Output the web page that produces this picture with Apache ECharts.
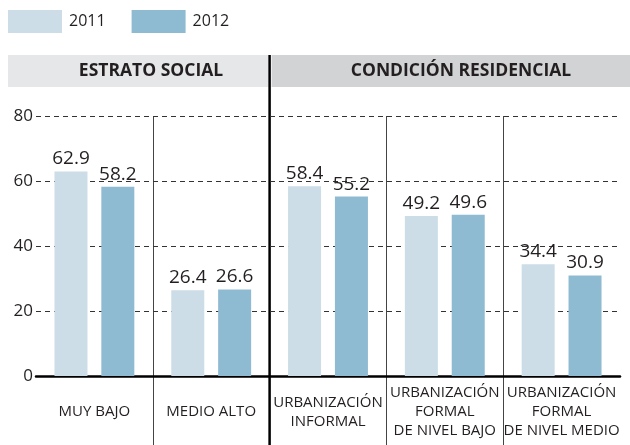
<!DOCTYPE html>
<html>
<head>
<meta charset="utf-8">
<script src="https://cdn.jsdelivr.net/npm/echarts@6/dist/echarts.min.js"></script>
<style>
  html, body { margin: 0; padding: 0; background: #fff; }
  #chart { width: 630px; height: 445px; }
</style>
</head>
<body>
<div id="chart"></div>
<script>
const categories = [
  'MUY BAJO',
  'MEDIO ALTO',
  'URBANIZACIÓN\nINFORMAL',
  'URBANIZACIÓN\nFORMAL\nDE NIVEL BAJO',
  'URBANIZACIÓN\nFORMAL\nDE NIVEL MEDIO'
]
const values2011 = [62.9, 26.4, 58.4, 49.2, 34.4]
const values2012 = [58.2, 26.6, 55.2, 49.6, 30.9]
const groups = ['ESTRATO SOCIAL', 'CONDICIÓN RESIDENCIAL']

const font = '"Open Sans", "Noto Sans", sans-serif'
const ink = '#231f20'
const gridLeft = 36
const gridRight = 10
const gridTop = 116
const gridBottom = 69
const W = 630
const H = 445
const plotW = W - gridLeft - gridRight
const band = plotW / categories.length

// vertical separators between categories (the one between groups is thick)
const separators = []
for (let i = 1; i < categories.length; i++) {
  const x = Math.round(gridLeft + band * i) + 0.5
  if (i === 2) continue
  separators.push({
    type: 'line',
    shape: { x1: x, y1: gridTop, x2: x, y2: H },
    style: { stroke: '#444', lineWidth: 1 }
  })
}
const groupX = gridLeft + band * 2

const chart = echarts.init(document.getElementById('chart'))

chart.setOption({
  animation: false,
  textStyle: { fontFamily: font },
  legend: {
    left: 8,
    top: 10,
    padding: 0,
    itemWidth: 54,
    itemHeight: 23,
    itemGap: 26,
    icon: 'rect',
    textStyle: { fontSize: 16, color: ink, fontFamily: font, padding: [0, 0, 0, 2] },
    data: ['2011', '2012']
  },
  grid: { left: gridLeft, right: gridRight, top: gridTop, bottom: gridBottom },
  graphic: [
    { type: 'rect', shape: { x: 8, y: 55, width: groupX - 9, height: 32 }, style: { fill: '#e6e7e8' } },
    { type: 'rect', shape: { x: groupX + 2, y: 55, width: W - groupX - 2, height: 32 }, style: { fill: '#d1d3d4' } },
    {
      type: 'text', x: 151, y: 71,
      style: { text: groups[0], font: 'bold 17.5px ' + font, fill: ink, align: 'center', verticalAlign: 'middle' }
    },
    {
      type: 'text', x: 461, y: 71,
      style: { text: groups[1], font: 'bold 17.5px ' + font, fill: ink, align: 'center', verticalAlign: 'middle' }
    },
    {
      type: 'line',
      shape: { x1: groupX, y1: 55, x2: groupX, y2: H },
      style: { stroke: '#000', lineWidth: 2.5 }
    },
    ...separators
  ],
  xAxis: {
    type: 'category',
    data: categories,
    axisLine: { lineStyle: { color: '#000', width: 2.5 } },
    axisTick: { show: false },
    axisLabel: {
      fontSize: 15,
      color: ink,
      lineHeight: 19,
      margin: 36,
      verticalAlign: 'middle',
      interval: 0
    }
  },
  yAxis: {
    type: 'value',
    min: 0,
    max: 80,
    interval: 20,
    axisLine: { show: false },
    axisTick: { show: false },
    axisLabel: { fontSize: 17, color: ink, margin: 3 },
    splitLine: { lineStyle: { color: '#333', type: [5, 4], width: 1 } }
  },
  series: [
    {
      name: '2011',
      type: 'bar',
      data: values2011,
      barWidth: 33,
      barGap: '42%',
      itemStyle: { color: '#ccdde7' },
      label: { show: true, position: 'top', distance: 3, fontSize: 19, color: ink, formatter: p => p.value.toFixed(1) }
    },
    {
      name: '2012',
      type: 'bar',
      data: values2012,
      barWidth: 33,
      itemStyle: { color: '#8fbbd2' },
      label: { show: true, position: 'top', distance: 3, fontSize: 19, color: ink, formatter: p => p.value.toFixed(1) }
    }
  ]
})
</script>
</body>
</html>
